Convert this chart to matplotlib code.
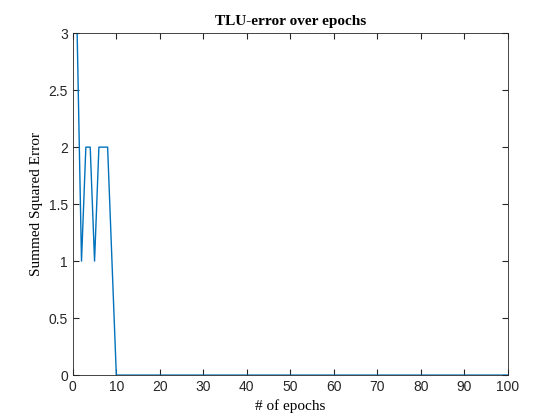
import numpy as np
import matplotlib
matplotlib.use("Agg")
import matplotlib.pyplot as plt

epochs = np.arange(1, 101)
sse = [3, 1, 2, 2, 1, 2, 2, 2, 1] + [0] * 91

fig = plt.figure(figsize=(5.6, 4.2), dpi=100)
ax = fig.add_axes([0.13, 0.107, 0.777, 0.814])
ax.plot(epochs, sse, color='#0072BD', linewidth=1)
ax.set_xlim(0, 100)
ax.set_ylim(0, 3)
ax.set_xticks(np.arange(0, 101, 10))
ax.set_yticks(np.arange(0, 3.01, 0.5))
ax.set_yticklabels(['0', '0.5', '1', '1.5', '2', '2.5', '3'])
ax.tick_params(direction='in', top=True, right=True, labelsize=10, colors='#262626', length=4)
for s in ax.spines.values():
    s.set_color('#262626')
    s.set_linewidth(0.6)
ax.set_title('TLU-error over epochs', family='Liberation Serif', fontweight='bold', fontsize=11)
ax.set_xlabel('# of epochs', family='Liberation Serif', fontsize=11)
ax.set_ylabel('Summed Squared Error', family='Liberation Serif', fontsize=11)
for lbl in ax.get_xticklabels() + ax.get_yticklabels():
    lbl.set_family('Liberation Sans')
fig.savefig('out.png', dpi=100)
